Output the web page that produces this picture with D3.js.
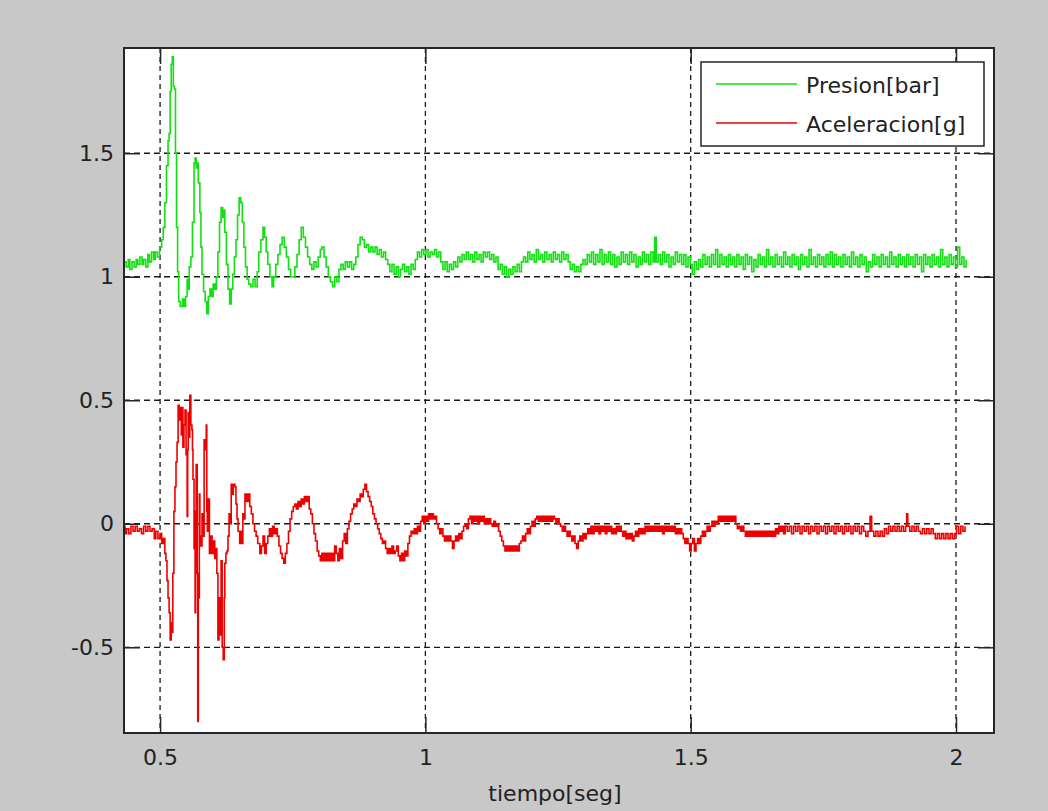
<!DOCTYPE html>
<html lang="es">
<head>
<meta charset="UTF-8">
<title>Presion y Aceleracion</title>
<script src="https://cdn.jsdelivr.net/npm/d3@7"></script>
<style>
    body { margin: 0; background: #c8c8c8; }
    svg { display: block; }
    .tick text, .lbl { font-family: "DejaVu Sans", sans-serif; font-size: 22px; fill: #222; }
    .grid line { stroke: #1a1a1a; stroke-width: 1.3; }
</style>
</head>
<body>
<svg id="chart" width="1048" height="811"></svg>
<script>
// ---- data ----
const xTicks = [0.5, 1, 1.5, 2];
const yTicks = [-0.5, 0, 0.5, 1, 1.5];
const xLabel = "tiempo[seg]";
const seriesNames = ["Presion[bar]", "Aceleracion[g]"];

// [tiempo, valor]
const presion = [
[0.432,1.06],[0.436,1.04],[0.440,1.07],[0.443,1.03],[0.447,1.06],[0.451,1.04],[0.455,1.07],[0.458,1.05],[0.462,1.08],[0.466,1.05],
[0.469,1.07],[0.473,1.04],[0.477,1.09],[0.480,1.06],[0.484,1.10],[0.488,1.07],[0.491,1.10],[0.495,1.08],[0.499,1.12],[0.503,1.15],
[0.506,1.20],[0.509,1.30],[0.512,1.45],[0.515,1.55],[0.517,1.58],[0.519,1.75],[0.521,1.86],[0.523,1.89],[0.525,1.77],[0.527,1.76],
[0.529,1.50],[0.531,1.20],[0.533,1.02],[0.535,0.90],[0.538,0.88],[0.542,0.91],[0.545,0.88],[0.548,0.92],[0.551,0.99],[0.553,0.95],
[0.555,1.04],[0.558,1.08],[0.561,1.22],[0.564,1.46],[0.566,1.48],[0.568,1.44],[0.570,1.46],[0.572,1.38],[0.575,1.26],[0.577,1.12],
[0.579,1.01],[0.582,0.94],[0.585,0.90],[0.588,0.85],[0.591,0.92],[0.594,0.95],[0.597,0.92],[0.600,0.97],[0.603,0.95],[0.606,1.00],
[0.609,1.10],[0.612,1.22],[0.615,1.28],[0.618,1.24],[0.620,1.27],[0.622,1.18],[0.625,1.05],[0.628,0.95],[0.631,0.89],[0.634,0.95],
[0.637,1.01],[0.640,1.08],[0.643,1.15],[0.646,1.25],[0.649,1.32],[0.652,1.30],[0.655,1.22],[0.658,1.12],[0.661,1.04],[0.664,0.99],
[0.667,0.97],[0.671,0.96],[0.675,0.99],[0.679,0.96],[0.683,1.02],[0.686,1.10],[0.690,1.15],[0.694,1.20],[0.697,1.16],[0.700,1.10],
[0.703,1.05],[0.707,1.00],[0.711,0.96],[0.714,1.00],[0.718,1.05],[0.722,1.09],[0.726,1.13],[0.730,1.16],[0.734,1.12],[0.738,1.08],
[0.742,1.03],[0.746,1.00],[0.750,1.00],[0.754,1.04],[0.758,1.09],[0.762,1.15],[0.766,1.20],[0.770,1.16],[0.774,1.12],[0.778,1.08],
[0.782,1.05],[0.786,1.03],[0.790,1.06],[0.794,1.04],[0.798,1.08],[0.802,1.11],[0.805,1.12],[0.809,1.08],[0.813,1.04],[0.817,1.00],
[0.821,0.98],[0.825,0.96],[0.829,1.00],[0.833,0.98],[0.837,1.03],[0.841,1.05],[0.845,1.03],[0.849,1.06],[0.853,1.04],[0.857,1.06],
[0.861,1.03],[0.865,1.05],[0.869,1.08],[0.873,1.13],[0.877,1.16],[0.881,1.15],[0.885,1.12],[0.889,1.13],[0.893,1.10],[0.897,1.12],
[0.901,1.10],[0.905,1.12],[0.909,1.09],[0.913,1.11],[0.917,1.08],[0.921,1.10],[0.925,1.07],[0.929,1.05],[0.933,1.02],[0.937,1.05],
[0.941,1.01],[0.945,1.04],[0.949,1.00],[0.953,1.03],[0.957,1.05],[0.961,1.02],[0.965,1.04],[0.969,1.01],[0.973,1.05],[0.977,1.03],
[0.981,1.07],[0.985,1.10],[0.989,1.08],[0.993,1.11],[0.997,1.09],[1.001,1.11],[1.005,1.08],[1.009,1.10],[1.013,1.09],[1.017,1.11],
[1.021,1.08],[1.025,1.10],[1.029,1.06],[1.033,1.03],[1.037,1.06],[1.041,1.02],[1.045,1.05],[1.049,1.03],[1.053,1.06],[1.057,1.04],
[1.061,1.08],[1.065,1.06],[1.069,1.09],[1.073,1.07],[1.077,1.10],[1.081,1.07],[1.085,1.09],[1.089,1.06],[1.093,1.10],[1.097,1.07],
[1.101,1.09],[1.105,1.06],[1.109,1.10],[1.113,1.08],[1.117,1.10],[1.121,1.07],[1.125,1.09],[1.129,1.06],[1.133,1.08],[1.137,1.03],
[1.141,1.05],[1.145,1.01],[1.149,1.04],[1.153,1.00],[1.157,1.03],[1.161,1.01],[1.165,1.04],[1.169,1.02],[1.173,1.05],[1.177,1.02],
[1.181,1.06],[1.185,1.08],[1.189,1.06],[1.193,1.10],[1.197,1.07],[1.201,1.09],[1.205,1.06],[1.209,1.11],[1.213,1.07],[1.217,1.09],
[1.221,1.06],[1.225,1.10],[1.229,1.07],[1.233,1.09],[1.237,1.06],[1.241,1.10],[1.245,1.07],[1.249,1.09],[1.253,1.06],[1.257,1.10],
[1.261,1.07],[1.265,1.09],[1.269,1.06],[1.273,1.03],[1.277,1.05],[1.281,1.02],[1.285,1.04],[1.289,1.02],[1.293,1.05],[1.297,1.07],
[1.301,1.05],[1.305,1.09],[1.309,1.06],[1.313,1.10],[1.317,1.05],[1.321,1.09],[1.325,1.06],[1.329,1.11],[1.333,1.05],[1.337,1.09],
[1.341,1.06],[1.345,1.10],[1.349,1.05],[1.353,1.09],[1.357,1.04],[1.361,1.08],[1.365,1.05],[1.369,1.10],[1.373,1.06],[1.377,1.09],
[1.381,1.05],[1.385,1.10],[1.389,1.06],[1.393,1.09],[1.397,1.04],[1.401,1.08],[1.405,1.05],[1.409,1.10],[1.413,1.06],[1.417,1.09],
[1.421,1.05],[1.425,1.10],[1.429,1.06],[1.432,1.16],[1.435,1.06],[1.439,1.09],[1.443,1.05],[1.447,1.10],[1.451,1.06],[1.455,1.09],
[1.459,1.04],[1.463,1.08],[1.467,1.05],[1.471,1.10],[1.475,1.06],[1.479,1.09],[1.483,1.05],[1.487,1.09],[1.491,1.04],[1.495,1.08],
[1.499,1.05],[1.503,1.01],[1.507,1.06],[1.511,1.03],[1.515,1.07],[1.519,1.04],[1.523,1.09],[1.527,1.05],[1.531,1.08],[1.535,1.04],
[1.539,1.09],[1.543,1.05],[1.547,1.11],[1.551,1.04],[1.555,1.09],[1.559,1.05],[1.563,1.08],[1.567,1.04],[1.571,1.09],[1.575,1.05],
[1.579,1.08],[1.583,1.04],[1.587,1.09],[1.591,1.05],[1.595,1.08],[1.599,1.03],[1.603,1.09],[1.607,1.05],[1.611,1.08],[1.615,1.02],
[1.619,1.07],[1.623,1.04],[1.627,1.09],[1.631,1.05],[1.635,1.08],[1.639,1.04],[1.643,1.11],[1.647,1.05],[1.651,1.08],[1.655,1.04],
[1.659,1.09],[1.663,1.05],[1.667,1.08],[1.671,1.04],[1.675,1.10],[1.679,1.05],[1.683,1.08],[1.687,1.04],[1.691,1.09],[1.695,1.05],
[1.699,1.08],[1.703,1.03],[1.707,1.09],[1.711,1.05],[1.715,1.08],[1.719,1.04],[1.723,1.11],[1.727,1.05],[1.731,1.08],[1.735,1.04],
[1.739,1.09],[1.743,1.05],[1.747,1.08],[1.751,1.04],[1.755,1.09],[1.759,1.05],[1.763,1.10],[1.767,1.04],[1.771,1.09],[1.775,1.05],
[1.779,1.08],[1.783,1.04],[1.787,1.09],[1.791,1.05],[1.795,1.08],[1.799,1.04],[1.803,1.10],[1.807,1.05],[1.811,1.08],[1.815,1.04],
[1.819,1.09],[1.823,1.05],[1.827,1.08],[1.831,1.02],[1.835,1.06],[1.839,1.04],[1.843,1.09],[1.847,1.05],[1.851,1.08],[1.855,1.04],
[1.859,1.09],[1.863,1.05],[1.867,1.08],[1.871,1.04],[1.875,1.10],[1.879,1.05],[1.883,1.08],[1.887,1.04],[1.891,1.09],[1.895,1.05],
[1.899,1.08],[1.903,1.04],[1.907,1.09],[1.911,1.05],[1.915,1.08],[1.919,1.04],[1.923,1.09],[1.927,1.05],[1.931,1.08],[1.935,1.02],
[1.939,1.09],[1.943,1.05],[1.947,1.08],[1.951,1.04],[1.955,1.09],[1.959,1.05],[1.963,1.08],[1.967,1.04],[1.971,1.11],[1.975,1.05],
[1.979,1.08],[1.983,1.04],[1.987,1.09],[1.991,1.05],[1.995,1.08],[1.999,1.04],[2.003,1.12],[2.007,1.05],[2.011,1.08],[2.015,1.04],
[2.019,1.07]
];

const aceleracion = [
[0.432,-0.01],[0.434,-0.04],[0.437,-0.02],[0.441,-0.04],[0.445,-0.01],[0.449,-0.03],[0.453,-0.01],[0.457,-0.03],[0.461,-0.02],[0.465,-0.04],
[0.469,-0.01],[0.473,-0.03],[0.477,-0.01],[0.481,-0.03],[0.485,-0.02],[0.489,-0.06],[0.492,-0.03],[0.496,-0.06],[0.500,-0.04],[0.503,-0.08],
[0.506,-0.06],[0.509,-0.12],[0.511,-0.15],[0.513,-0.23],[0.515,-0.30],[0.517,-0.36],[0.519,-0.47],[0.521,-0.40],[0.523,-0.44],[0.524,-0.20],
[0.526,0.05],[0.528,0.15],[0.530,0.25],[0.532,0.33],[0.534,0.48],[0.536,0.42],[0.538,0.47],[0.540,0.36],[0.541,0.47],[0.543,0.31],
[0.545,0.40],[0.547,0.46],[0.549,0.28],[0.551,0.03],[0.552,0.30],[0.553,0.45],[0.555,0.35],[0.556,0.52],[0.558,0.40],[0.560,0.38],
[0.561,0.30],[0.562,0.18],[0.564,-0.10],[0.566,-0.36],[0.567,0.05],[0.568,0.24],[0.570,-0.20],[0.571,-0.80],[0.572,-0.30],[0.574,0.12],
[0.575,-0.05],[0.577,-0.09],[0.579,0.04],[0.581,-0.05],[0.583,0.34],[0.585,0.30],[0.587,0.40],[0.588,0.05],[0.589,-0.03],[0.591,0.10],
[0.593,-0.12],[0.596,-0.05],[0.598,-0.12],[0.600,-0.07],[0.603,-0.14],[0.605,-0.10],[0.607,-0.20],[0.609,-0.47],[0.611,-0.30],[0.613,-0.45],
[0.615,-0.15],[0.617,-0.50],[0.619,-0.55],[0.621,-0.30],[0.622,-0.16],[0.624,-0.12],[0.626,-0.11],[0.628,-0.05],[0.630,0.04],[0.632,0.00],
[0.634,0.16],[0.636,0.12],[0.638,0.16],[0.641,0.15],[0.643,0.08],[0.645,0.02],[0.647,-0.03],[0.650,-0.08],[0.652,-0.03],[0.654,-0.08],
[0.656,0.04],[0.658,0.02],[0.660,0.12],[0.663,0.09],[0.666,0.12],[0.669,0.07],[0.672,0.04],[0.675,0.00],[0.678,-0.03],[0.681,-0.05],
[0.684,-0.08],[0.688,-0.12],[0.691,-0.09],[0.694,-0.05],[0.697,-0.12],[0.700,-0.08],[0.703,-0.05],[0.706,-0.02],[0.709,-0.05],[0.712,-0.01],
[0.715,-0.04],[0.718,-0.02],[0.721,-0.05],[0.724,-0.09],[0.727,-0.12],[0.730,-0.14],[0.733,-0.16],[0.736,-0.12],[0.739,-0.08],[0.742,-0.03],
[0.745,0.02],[0.748,0.05],[0.751,0.07],[0.754,0.08],[0.757,0.06],[0.760,0.09],[0.763,0.07],[0.766,0.10],[0.769,0.08],[0.772,0.11],
[0.775,0.09],[0.778,0.11],[0.781,0.06],[0.784,0.04],[0.787,0.00],[0.790,-0.04],[0.793,-0.07],[0.796,-0.11],[0.799,-0.13],[0.802,-0.15],
[0.805,-0.12],[0.808,-0.15],[0.811,-0.12],[0.814,-0.15],[0.817,-0.12],[0.820,-0.15],[0.823,-0.12],[0.826,-0.15],[0.829,-0.09],[0.832,-0.12],
[0.835,-0.15],[0.838,-0.10],[0.841,-0.14],[0.844,-0.07],[0.847,-0.04],[0.850,-0.08],[0.853,-0.02],[0.856,0.01],[0.859,0.04],[0.862,0.06],
[0.865,0.08],[0.868,0.07],[0.871,0.10],[0.874,0.09],[0.877,0.12],[0.880,0.11],[0.883,0.14],[0.886,0.16],[0.889,0.13],[0.892,0.11],
[0.895,0.09],[0.898,0.07],[0.901,0.04],[0.904,0.02],[0.907,0.00],[0.910,-0.02],[0.913,-0.04],[0.916,-0.06],[0.919,-0.08],[0.922,-0.07],
[0.925,-0.10],[0.928,-0.12],[0.931,-0.10],[0.934,-0.12],[0.937,-0.09],[0.940,-0.12],[0.943,-0.11],[0.946,-0.09],[0.949,-0.13],[0.952,-0.15],
[0.955,-0.12],[0.958,-0.15],[0.961,-0.11],[0.964,-0.13],[0.967,-0.08],[0.970,-0.05],[0.973,-0.03],[0.976,-0.04],[0.979,-0.02],[0.982,-0.04],
[0.985,-0.01],[0.988,-0.03],[0.991,0.01],[0.994,0.03],[0.997,0.00],[1.000,0.03],[1.003,0.01],[1.006,0.04],[1.009,0.02],[1.012,0.04],
[1.015,0.02],[1.018,0.03],[1.021,0.00],[1.024,-0.02],[1.027,-0.04],[1.030,-0.02],[1.033,-0.05],[1.036,-0.07],[1.039,-0.05],[1.042,-0.07],
[1.045,-0.05],[1.048,-0.07],[1.051,-0.10],[1.054,-0.07],[1.057,-0.05],[1.060,-0.07],[1.063,-0.04],[1.066,-0.06],[1.069,-0.03],[1.072,-0.01],
[1.075,0.00],[1.078,-0.02],[1.081,0.02],[1.084,0.03],[1.087,0.00],[1.090,0.03],[1.093,0.01],[1.096,0.03],[1.099,0.00],[1.102,0.03],
[1.105,0.01],[1.108,0.03],[1.111,0.00],[1.114,0.02],[1.117,0.00],[1.120,0.02],[1.123,0.00],[1.126,-0.01],[1.129,0.01],[1.132,-0.01],
[1.135,0.00],[1.138,-0.03],[1.141,-0.05],[1.144,-0.07],[1.147,-0.09],[1.150,-0.11],[1.153,-0.09],[1.156,-0.11],[1.159,-0.09],[1.162,-0.11],
[1.165,-0.09],[1.168,-0.11],[1.171,-0.09],[1.174,-0.11],[1.177,-0.08],[1.180,-0.07],[1.183,-0.05],[1.186,-0.07],[1.189,-0.04],[1.192,-0.02],
[1.195,-0.04],[1.198,-0.01],[1.201,0.01],[1.204,-0.01],[1.207,0.02],[1.210,0.03],[1.213,0.01],[1.216,0.03],[1.219,0.01],[1.222,0.03],
[1.225,0.01],[1.228,0.03],[1.231,0.01],[1.234,0.03],[1.237,0.01],[1.240,0.03],[1.243,0.02],[1.246,0.00],[1.249,0.02],[1.252,0.00],
[1.255,-0.01],[1.258,-0.03],[1.261,-0.01],[1.264,-0.03],[1.267,-0.05],[1.270,-0.03],[1.273,-0.05],[1.276,-0.07],[1.279,-0.05],[1.282,-0.08],
[1.285,-0.10],[1.288,-0.07],[1.291,-0.05],[1.294,-0.07],[1.297,-0.04],[1.300,-0.06],[1.303,-0.04],[1.306,-0.02],[1.309,-0.04],[1.312,-0.01],
[1.315,-0.04],[1.318,-0.01],[1.321,-0.03],[1.324,-0.01],[1.327,-0.04],[1.330,-0.01],[1.333,-0.03],[1.336,-0.01],[1.339,-0.04],[1.342,-0.01],
[1.345,-0.03],[1.348,-0.01],[1.351,-0.04],[1.354,-0.02],[1.357,-0.04],[1.360,-0.01],[1.363,-0.03],[1.366,-0.01],[1.369,-0.03],[1.372,-0.05],
[1.375,-0.03],[1.378,-0.06],[1.381,-0.04],[1.384,-0.06],[1.387,-0.04],[1.390,-0.07],[1.393,-0.05],[1.396,-0.03],[1.399,-0.05],[1.402,-0.02],
[1.405,-0.04],[1.408,-0.02],[1.411,-0.04],[1.414,-0.01],[1.417,-0.03],[1.420,-0.01],[1.423,-0.03],[1.426,-0.01],[1.429,-0.03],[1.432,-0.01],
[1.435,-0.03],[1.438,-0.01],[1.441,-0.03],[1.444,-0.01],[1.447,-0.04],[1.450,-0.01],[1.453,-0.03],[1.456,-0.01],[1.459,-0.03],[1.462,-0.01],
[1.465,-0.03],[1.468,-0.01],[1.471,-0.04],[1.474,-0.02],[1.477,-0.04],[1.480,-0.02],[1.483,-0.04],[1.486,-0.06],[1.489,-0.08],[1.492,-0.06],
[1.495,-0.08],[1.498,-0.11],[1.501,-0.08],[1.504,-0.06],[1.507,-0.11],[1.510,-0.08],[1.513,-0.06],[1.516,-0.08],[1.519,-0.05],[1.522,-0.03],
[1.525,-0.05],[1.528,-0.03],[1.531,-0.01],[1.534,-0.03],[1.537,-0.01],[1.540,0.01],[1.543,-0.01],[1.546,0.01],[1.549,0.00],[1.552,0.03],
[1.555,0.01],[1.558,0.03],[1.561,0.01],[1.564,0.03],[1.567,0.01],[1.570,0.03],[1.573,0.01],[1.576,0.03],[1.579,0.01],[1.582,0.03],
[1.585,0.00],[1.588,-0.02],[1.591,-0.01],[1.594,-0.03],[1.597,-0.01],[1.600,-0.03],[1.603,-0.05],[1.606,-0.03],[1.609,-0.05],[1.612,-0.03],
[1.615,-0.05],[1.618,-0.03],[1.621,-0.05],[1.624,-0.03],[1.627,-0.05],[1.630,-0.03],[1.633,-0.05],[1.636,-0.03],[1.639,-0.05],[1.642,-0.03],
[1.645,-0.05],[1.648,-0.03],[1.651,-0.05],[1.654,-0.03],[1.657,-0.05],[1.660,-0.02],[1.663,-0.04],[1.666,-0.01],[1.669,-0.03],[1.672,-0.01],
[1.675,-0.04],[1.678,-0.01],[1.682,-0.03],[1.686,-0.01],[1.690,-0.04],[1.694,-0.01],[1.698,-0.03],[1.702,-0.01],[1.706,-0.04],[1.710,-0.01],
[1.714,-0.03],[1.718,-0.01],[1.722,-0.04],[1.726,-0.01],[1.730,-0.03],[1.734,-0.01],[1.738,-0.04],[1.742,-0.01],[1.746,-0.03],[1.750,-0.01],
[1.754,-0.04],[1.758,-0.01],[1.762,-0.03],[1.766,-0.01],[1.770,-0.04],[1.774,-0.01],[1.778,-0.03],[1.782,-0.01],[1.786,-0.04],[1.790,-0.01],
[1.794,-0.03],[1.798,-0.01],[1.802,-0.04],[1.806,-0.01],[1.810,-0.03],[1.814,-0.01],[1.818,-0.04],[1.822,-0.01],[1.826,-0.03],[1.830,-0.05],
[1.834,-0.03],[1.838,0.03],[1.841,-0.03],[1.845,-0.05],[1.849,-0.03],[1.853,-0.05],[1.857,-0.03],[1.861,-0.05],[1.865,-0.02],[1.869,-0.04],
[1.873,-0.01],[1.877,-0.03],[1.881,-0.01],[1.885,-0.03],[1.889,-0.01],[1.893,-0.03],[1.897,-0.01],[1.901,-0.03],[1.905,-0.01],[1.907,0.04],
[1.909,-0.01],[1.913,-0.03],[1.917,-0.01],[1.921,-0.03],[1.925,-0.01],[1.929,-0.03],[1.933,-0.04],[1.937,-0.02],[1.941,-0.04],[1.945,-0.02],
[1.949,-0.04],[1.953,-0.02],[1.957,-0.04],[1.961,-0.06],[1.965,-0.04],[1.969,-0.06],[1.973,-0.04],[1.977,-0.06],[1.981,-0.04],[1.985,-0.06],
[1.989,-0.04],[1.993,-0.06],[1.997,-0.04],[2.001,-0.01],[2.005,-0.04],[2.009,-0.01],[2.013,-0.03],[2.017,-0.01]
];

const seriesColors = ["#11e011", "#ee0000"];

// ---- layout ----
const svg = d3.select("#chart");
const plotL = 124, plotR = 994, plotT = 48, plotB = 733;

const x = d3.scaleLinear().domain([0.432, 2.0716]).range([plotL, plotR]);
const y = d3.scaleLinear().domain([-0.847, 1.926]).range([plotB, plotT]);

// plot background
svg.append("rect")
    .attr("x", plotL).attr("y", plotT)
    .attr("width", plotR - plotL).attr("height", plotB - plotT)
    .attr("fill", "#fff");

// grid
const grid = svg.append("g").attr("class", "grid");
grid.selectAll(".gx").data(xTicks).enter().append("line")
    .attr("x1", d => x(d)).attr("x2", d => x(d))
    .attr("y1", plotT).attr("y2", plotB)
    .attr("stroke-dasharray", "5,4");
grid.selectAll(".gy").data(yTicks).enter().append("line")
    .attr("x1", plotL).attr("x2", plotR)
    .attr("y1", d => y(d)).attr("y2", d => y(d))
    .attr("stroke-dasharray", "6,4");

// lines
svg.append("clipPath").attr("id", "clip")
    .append("rect").attr("x", plotL).attr("y", plotT)
    .attr("width", plotR - plotL).attr("height", plotB - plotT);

const line = d3.line()
    .x(d => x(d[0]))
    .y(d => y(d[1]))
    .curve(d3.curveStepAfter);

[presion, aceleracion].forEach((s, i) => {
    svg.append("path")
        .datum(s)
        .attr("clip-path", "url(#clip)")
        .attr("fill", "none")
        .attr("stroke", seriesColors[i])
        .attr("stroke-width", 1.6)
        .attr("d", line);
});

// axes (MATLAB style: ticks inside, box all round)
const fmt = d => String(d);
const axisColor = "#262626";

function styleAxis(g) {
    g.select(".domain").remove();
    g.selectAll(".tick line").attr("stroke", axisColor).attr("stroke-width", 1.5);
    g.selectAll("text").attr("font-family", null).attr("font-size", null).attr("fill", null);
}

svg.append("g").attr("transform", `translate(0,${plotB})`)
    .call(d3.axisBottom(x).tickValues(xTicks).tickSize(-16).tickPadding(16).tickFormat(fmt))
    .call(styleAxis);

svg.append("g").attr("transform", `translate(0,${plotT})`)
    .call(d3.axisTop(x).tickValues(xTicks).tickSize(-16).tickFormat(""))
    .call(styleAxis);

svg.append("g").attr("transform", `translate(${plotL},0)`)
    .call(d3.axisLeft(y).tickValues(yTicks).tickSize(-16).tickPadding(10).tickFormat(fmt))
    .call(styleAxis);

svg.append("g").attr("transform", `translate(${plotR},0)`)
    .call(d3.axisRight(y).tickValues(yTicks).tickSize(-16).tickFormat(""))
    .call(styleAxis);

svg.append("rect")
    .attr("x", plotL).attr("y", plotT)
    .attr("width", plotR - plotL).attr("height", plotB - plotT)
    .attr("fill", "none").attr("stroke", axisColor).attr("stroke-width", 2);

// x label
svg.append("text").attr("class", "lbl")
    .attr("x", 555).attr("y", 801)
    .attr("text-anchor", "middle")
    .text(xLabel);

// legend
const legend = svg.append("g");
legend.append("rect")
    .attr("x", 701).attr("y", 62).attr("width", 283).attr("height", 84)
    .attr("fill", "#fff").attr("stroke", axisColor).attr("stroke-width", 1.5);

seriesNames.forEach((name, i) => {
    const ly = 84 + i * 39;
    legend.append("line")
        .attr("x1", 716).attr("x2", 797)
        .attr("y1", ly).attr("y2", ly)
        .attr("stroke", seriesColors[i]).attr("stroke-width", 1.6);
    legend.append("text").attr("class", "lbl")
        .attr("x", 806).attr("y", ly + 9)
        .text(name);
});
</script>
</body>
</html>
